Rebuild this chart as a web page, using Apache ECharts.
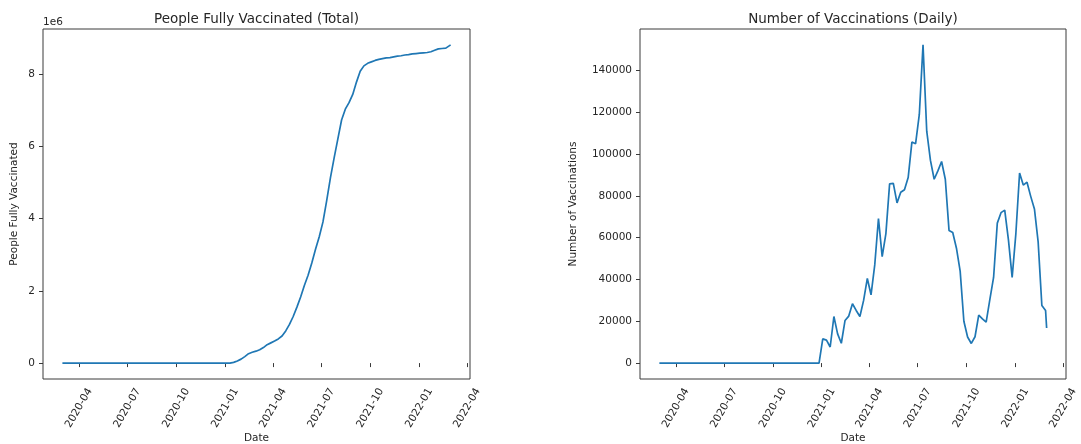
<!DOCTYPE html>
<html>
<head>
<meta charset="utf-8">
<title>Vaccinations</title>
<script src="https://cdn.jsdelivr.net/npm/echarts@6/dist/echarts.min.js"></script>
<style>
  html, body { margin: 0; padding: 0; background: #ffffff; }
  #chart { width: 1081px; height: 444px; }
</style>
</head>
<body>
<div id="chart"></div>
<script>
// Weekly observations (Sundays), plus the last reported day.
const dates = [
  '2020-03-01','2020-03-08','2020-03-15','2020-03-22','2020-03-29',
  '2020-04-05','2020-04-12','2020-04-19','2020-04-26',
  '2020-05-03','2020-05-10','2020-05-17','2020-05-24','2020-05-31',
  '2020-06-07','2020-06-14','2020-06-21','2020-06-28',
  '2020-07-05','2020-07-12','2020-07-19','2020-07-26',
  '2020-08-02','2020-08-09','2020-08-16','2020-08-23','2020-08-30',
  '2020-09-06','2020-09-13','2020-09-20','2020-09-27',
  '2020-10-04','2020-10-11','2020-10-18','2020-10-25',
  '2020-11-01','2020-11-08','2020-11-15','2020-11-22','2020-11-29',
  '2020-12-06','2020-12-13','2020-12-20','2020-12-27',
  '2021-01-03','2021-01-10','2021-01-17','2021-01-24','2021-01-31',
  '2021-02-07','2021-02-14','2021-02-21','2021-02-28',
  '2021-03-07','2021-03-14','2021-03-21','2021-03-28',
  '2021-04-04','2021-04-11','2021-04-18','2021-04-25',
  '2021-05-02','2021-05-09','2021-05-16','2021-05-23','2021-05-30',
  '2021-06-06','2021-06-13','2021-06-20','2021-06-27',
  '2021-07-04','2021-07-11','2021-07-18','2021-07-25',
  '2021-08-01','2021-08-08','2021-08-15','2021-08-22','2021-08-29',
  '2021-09-05','2021-09-12','2021-09-19','2021-09-26',
  '2021-10-03','2021-10-10','2021-10-17','2021-10-24','2021-10-31',
  '2021-11-07','2021-11-14','2021-11-21','2021-11-28',
  '2021-12-05','2021-12-12','2021-12-19','2021-12-26',
  '2022-01-02','2022-01-09','2022-01-16','2022-01-23','2022-01-30',
  '2022-02-06','2022-02-13','2022-02-20','2022-02-27',
  '2022-03-01'
];

// People fully vaccinated, cumulative, in millions.
const fullyVaccinatedMillions = [
  0,0,0,0,0, 0,0,0,0, 0,0,0,0,0, 0,0,0,0, 0,0,0,0,
  0,0,0,0,0, 0,0,0,0, 0,0,0,0, 0,0,0,0,0, 0,0,0,0,
  0, 0, 0.02, 0.06, 0.11,
  0.18, 0.26, 0.30, 0.33,
  0.37, 0.43, 0.51, 0.56,
  0.61, 0.67, 0.75, 0.89,
  1.07, 1.29, 1.55, 1.83, 2.15,
  2.43, 2.77, 3.15, 3.50,
  3.91, 4.50, 5.13, 5.68,
  6.21, 6.73, 7.03, 7.21, 7.44,
  7.78, 8.08, 8.23, 8.30,
  8.34, 8.38, 8.41, 8.43, 8.45,
  8.46, 8.48, 8.50, 8.51,
  8.53, 8.54, 8.56, 8.57,
  8.58, 8.59, 8.60, 8.62, 8.66,
  8.70, 8.71, 8.72, 8.79,
  8.81
];

// Vaccinations administered per day (weekly readings).
const dailyVaccinations = [
  0,0,0,0,0, 0,0,0,0, 0,0,0,0,0, 0,0,0,0, 0,0,0,0,
  0,0,0,0,0, 0,0,0,0, 0,0,0,0, 0,0,0,0,0, 0,0,0,0,
  11600, 11000, 7700, 22300, 14000,
  9500, 20400, 22500, 28400,
  25200, 22300, 30000, 40500,
  32700, 47000, 69200, 51000,
  62000, 85800, 86000, 76700, 81800,
  83000, 88800, 105800, 105000,
  119000, 152300, 111000, 97000,
  88000, 92000, 96500, 88000, 63500,
  62500, 55000, 44000, 20000,
  12500, 9400, 12600, 23000, 21200,
  19600, 30500, 41000, 67000,
  72000, 73200, 59000, 41000,
  62000, 91000, 85200, 86600, 79800,
  73800, 58000, 27600, 25200,
  16800
];

const dateTicks = ['2020-04','2020-07','2020-10','2021-01','2021-04','2021-07','2021-10','2022-01','2022-04'];
const totalTicks = [0, 2, 4, 6, 8];
const dailyTicks = [0, 20000, 40000, 60000, 80000, 100000, 120000, 140000];

// Local-time timestamp from 'YYYY-MM' or 'YYYY-MM-DD'.
function toTime(s) {
  const p = s.split('-').map(Number);
  return new Date(p[0], p[1] - 1, p[2] || 1).getTime();
}
// 5% breathing room on both ends of every axis.
function pad(v) { return (v.max - v.min) * 0.05; }
function lo(v) { return v.min - pad(v); }
function hi(v) { return v.max + pad(v); }

const FONT = 'DejaVu Sans';
const INK = '#262626';
const FRAME = '#3a3a3a';
const tickTimes = dateTicks.map(toTime);

function xAxisFor(gridIndex) {
  return {
    type: 'value', gridIndex: gridIndex, min: lo, max: hi, scale: true,
    axisLine: { show: false },
    splitLine: { show: false },
    axisTick: { show: true, length: 4, customValues: tickTimes, lineStyle: { color: FRAME, width: 1 } },
    axisLabel: {
      customValues: tickTimes, rotate: 60, align: 'center', verticalAlign: 'middle',
      margin: 29, fontFamily: FONT, fontSize: 10.5, color: INK, hideOverlap: false,
      formatter: function (val) {
        const d = new Date(val);
        const m = d.getMonth() + 1;
        return d.getFullYear() + '-' + (m < 10 ? '0' + m : m);
      }
    },
    name: 'Date', nameLocation: 'middle', nameGap: 54, nameMoveOverlap: false,
    nameTextStyle: { fontFamily: FONT, fontSize: 10.5, color: INK }
  };
}

function yAxisFor(gridIndex, ticks, name, gap) {
  return {
    type: 'value', gridIndex: gridIndex, min: lo, max: hi,
    axisLine: { show: false },
    splitLine: { show: false },
    axisTick: { show: true, length: 4, customValues: ticks, lineStyle: { color: FRAME, width: 1 } },
    axisLabel: {
      customValues: ticks, margin: 8, fontFamily: FONT, fontSize: 10.5, color: INK,
      formatter: function (val) { return String(val); }
    },
    name: name, nameLocation: 'middle', nameRotate: 90, nameGap: gap, nameMoveOverlap: false,
    nameTextStyle: { fontFamily: FONT, fontSize: 10.5, color: INK }
  };
}

const chart = echarts.init(document.getElementById('chart'), null, { renderer: 'canvas' });
chart.setOption({
  animation: false,
  backgroundColor: '#ffffff',
  title: [
    { text: 'People Fully Vaccinated (Total)', left: 256.5, top: 12, textAlign: 'center', padding: 0,
      textStyle: { fontFamily: FONT, fontSize: 13.5, fontWeight: 'normal', color: INK } },
    { text: 'Number of Vaccinations (Daily)', left: 853, top: 12, textAlign: 'center', padding: 0,
      textStyle: { fontFamily: FONT, fontSize: 13.5, fontWeight: 'normal', color: INK } }
  ],
  grid: [
    { left: 43, top: 29, width: 427, height: 350, show: true, borderColor: FRAME, borderWidth: 1,
      backgroundColor: 'transparent', containLabel: false, outerBoundsMode: 'none' },
    { left: 640, top: 29, width: 426, height: 350, show: true, borderColor: FRAME, borderWidth: 1,
      backgroundColor: 'transparent', containLabel: false, outerBoundsMode: 'none' }
  ],
  xAxis: [xAxisFor(0), xAxisFor(1)],
  yAxis: [
    yAxisFor(0, totalTicks, 'People Fully Vaccinated', 23),
    yAxisFor(1, dailyTicks, 'Number of Vaccinations', 61)
  ],
  graphic: [
    { type: 'text', left: 43, top: 17,
      style: { text: '1e6', fontFamily: FONT, fontSize: 10.5, fill: INK } }
  ],
  series: [
    { type: 'line', xAxisIndex: 0, yAxisIndex: 0, showSymbol: false, silent: true,
      data: dates.map(function (d, i) { return [toTime(d), fullyVaccinatedMillions[i]]; }),
      lineStyle: { color: '#1f77b4', width: 1.7 } },
    { type: 'line', xAxisIndex: 1, yAxisIndex: 1, showSymbol: false, silent: true,
      data: dates.map(function (d, i) { return [toTime(d), dailyVaccinations[i]]; }),
      lineStyle: { color: '#1f77b4', width: 1.7 } }
  ]
});
</script>
</body>
</html>
